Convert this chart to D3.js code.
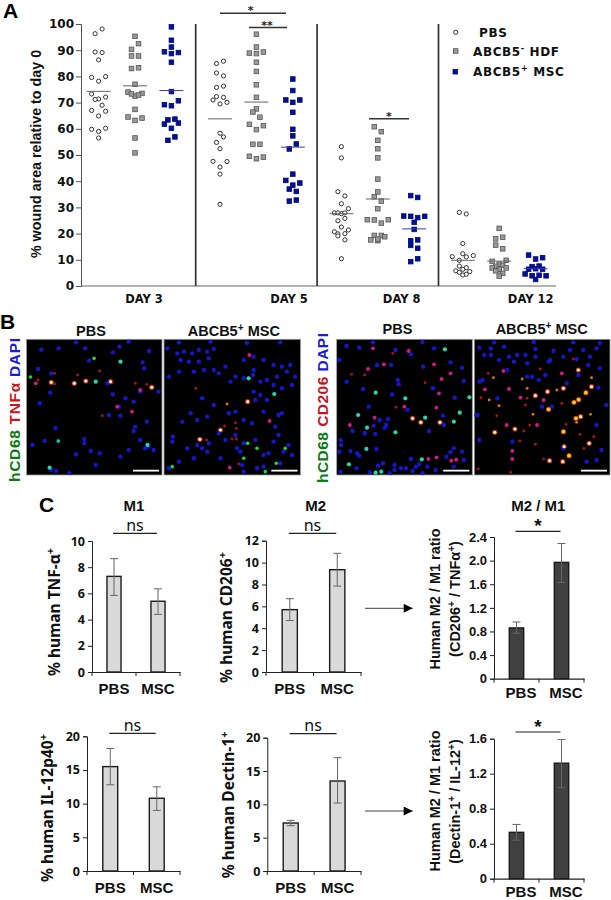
<!DOCTYPE html>
<html>
<head>
<meta charset="utf-8">
<script src="https://d3js.org/d3.v7.min.js"></script>
<style>
body { margin: 0; background: #fff; }
svg { display: block; }
</style>
</head>
<body>
<div id="figure"></div>
<script>
// Panel A: each inner array is one row of the swarm, left to right
var days = ['DAY 3', 'DAY 5', 'DAY 8', 'DAY 12'];
var groups = ['PBS', 'HDF', 'MSC'];

var day3Pbs = [[96.3, 98.1], [89.3, 89.1], [86.3], [79.6, 78.2, 79.9], [73.3, 71.4, 72.1], [71.2, 69], [67, 64.9, 66.7], [59.8, 59, 60.2], [56.5]];
var day3Hdf = [[95.3], [90.3, 92.5], [87.8, 87.8], [83, 83.3], [77], [74, 72.5, 73.5], [73.3, 72.9], [67.4], [64.5, 63.2, 64.1], [56.5], [50.8]];
var day3Msc = [[98.9], [93.8], [91.2], [89.4, 88.7, 89.1], [85.4], [74.2], [69.2, 68.8, 70.7], [63.4, 63.7], [61.8, 60.2, 62.2], [55.6, 56.9]];
var day5Pbs = [[84.9, 85.8], [81.3, 80.2], [75.8, 76.3], [72.3, 72], [71, 69.5, 70.1], [58.3], [54.8, 56.9], [52.4], [47.6, 45.4, 47.5], [42.7], [31.2]];
var day5Hdf = [[96.1], [91.2], [88.9, 88.7, 89.3], [85.4], [81.9], [76.8], [72], [67.6], [66.4, 64.4], [61.7, 59.7, 61.2], [54.1, 54.1], [49.5, 48.6, 49.2]];
var day5Msc = [[79], [74.6], [71, 70.1, 71], [66.3], [59.8], [57.3], [52.3, 54.2], [42.7], [40.3, 38.5, 39.3], [37, 36.1], [32.4, 32.8]];
var day8Pbs = [[53.2], [48.9], [36, 34.4], [31.4], [27.9, 27.6, 29.5], [27.9, 27.9], [24.9, 25.8], [20.7, 22.5, 21.4], [19.9, 20], [19.1, 17.6], [10.4]];
var day8Hdf = [[60.8, 58.9], [55.6], [52.4], [48.9], [40.8], [35.9], [34.1, 32.4], [29.5], [25.3, 25.2, 24, 25.3], [19.3, 19.3], [17.6, 17.3, 18.8], [17.9]];
var day8Msc = [[34.5, 33.8], [26.7, 26.6, 26.1, 26.6], [24.3], [21.6], [17.3, 17.6], [15.5, 14.4], [9.3, 10.4]];
var day12Pbs = [[28.1, 27.5], [16.2], [12.3], [11.2, 9.8, 11.1, 11.6], [7.6, 7], [6.4], [5.8, 4.2, 5.5], [5.2, 4.5]];
var day12Hdf = [[22], [18, 18.6], [15.6, 14.2], [9.4, 8.3, 9.8], [7.5, 7.9], [6.9, 6.2, 6.9], [6.4], [5.8, 4.8], [3.8]];
var day12Msc = [[11.8, 10.3, 10.8], [7.4, 7.6], [6.4, 6.6, 6.4], [4.6, 3.9, 4.1, 3.9], [2.5]];

var woundSeries = [
    [day3Pbs, day3Hdf, day3Msc],
    [day5Pbs, day5Hdf, day5Msc],
    [day8Pbs, day8Hdf, day8Msc],
    [day12Pbs, day12Hdf, day12Msc]
];
var woundMeans = [
    [74.3, 76.4, 74.6],
    [63.8, 70.2, 53],
    [27.6, 33.2, 21.8],
    [9.8, 9.5, 6.6]
];
var woundTicks = [0, 10, 20, 30, 40, 50, 60, 70, 80, 90, 100];

var cellsPbsTnf = [[45,14,'b'],[97,10,'b'],[178,10,'b'],[262,22,'b'],[190,47,'b'],[352,52,'b'],[372,18,'b'],[282,5,'b'],[357,70,'b'],[72,143,'b'],[40,175,'b'],[262,148,'b'],[300,160,'b'],[325,170,'b'],[280,185,'b'],[285,212,'b'],[250,210,'b'],[365,230,'b'],[330,245,'b'],[325,258,'b'],[345,285,'b'],[370,305,'b'],[385,315,'b'],[95,288,'b'],[55,288,'b'],[150,328,'b'],[175,282,'b'],[175,295,'b'],[195,318,'b'],[222,325,'b'],[285,335,'b'],[210,360,'b'],[75,375,'b'],[90,378,'b'],[130,385,'b'],[18,300,'b'],[88,250,'b'],[345,140,'b'],[400,140,'b'],[245,115,'b'],[360,310,'b'],[310,315,'b'],[35,72,'b'],[75,85,'b'],[150,-8,'b'],[310,-10,'b'],
    [28,115,'m'],[35,105,'r'],[85,85,'r'],[85,117,'r'],[330,115,'r'],[365,118,'r'],[345,135,'m'],[260,113,'r'],[230,212,'r'],[320,200,'m'],[275,185,'m'],[222,78,'r'],[155,90,'r'],
    [97,288,'g'],[205,40,'g'],[285,50,'c'],[210,110,'c'],[367,300,'c'],[70,368,'c'],[12,96,'g'],[75,112,'w'],[145,115,'w'],[180,108,'w'],[380,127,'w'],[255,110,'w']];
var cellsMscTnf = [[10,10,'b'],[40,25,'b'],[60,20,'b'],[85,25,'b'],[105,15,'b'],[130,20,'b'],[150,12,'b'],[50,45,'b'],[75,50,'b'],[105,50,'b'],[135,40,'b'],[150,75,'b'],[120,75,'b'],[165,85,'b'],[15,95,'b'],[45,80,'b'],[90,80,'b'],[240,45,'b'],[270,35,'b'],[300,45,'b'],[330,60,'b'],[355,65,'b'],[380,60,'b'],[270,75,'b'],[268,90,'b'],[290,110,'b'],[310,105,'b'],[340,95,'b'],[370,80,'b'],[395,95,'b'],[385,120,'b'],[355,130,'b'],[330,120,'b'],[240,100,'b'],[200,110,'b'],[185,65,'b'],[215,95,'b'],[270,140,'b'],[275,165,'b'],[290,150,'b'],[310,165,'b'],[150,180,'b'],[115,160,'b'],[80,205,'b'],[55,230,'b'],[100,225,'b'],[130,215,'b'],[195,205,'b'],[215,200,'b'],[240,225,'b'],[265,235,'b'],[300,200,'b'],[345,210,'b'],[355,205,'b'],[335,245,'b'],[345,270,'b'],[330,290,'b'],[27,275,'b'],[25,290,'b'],[70,310,'b'],[100,300,'b'],[115,310,'b'],[135,295,'b'],[165,265,'b'],[185,285,'b'],[215,270,'b'],[240,295,'b'],[230,320,'b'],[220,310,'b'],[275,285,'b'],[315,325,'b'],[300,330,'b'],[375,300,'b'],[360,320,'b'],[385,330,'b'],[350,355,'b'],[240,380,'b'],[235,360,'b'],[300,365,'b'],[15,370,'b'],[45,350,'b'],[170,340,'b'],[90,340,'b'],[130,320,'b'],[280,370,'b'],[45,-8,'b'],[140,-10,'b'],[250,-6,'b'],[350,-8,'b'],
    [332,147,'c'],[255,100,'c'],[257,30,'m'],[190,177,'o'],[182,243,'r'],[215,233,'r'],[218,250,'r'],[318,228,'m'],[198,368,'m'],[205,282,'r'],[218,282,'r'],[128,285,'r'],[225,357,'r'],[280,310,'g'],[338,355,'g'],[365,310,'g'],[305,380,'g'],[25,365,'g'],[240,340,'g'],[95,130,'r'],
    [252,295,'g'],[252,170,'w'],[108,283,'w'],[170,255,'w']];
var cellsPbsCd206 = [[30,3,'b'],[8,45,'b'],[68,8,'b'],[122,60,'b'],[165,60,'b'],[178,15,'b'],[225,28,'b'],[262,65,'b'],[295,10,'b'],[345,52,'b'],[380,68,'b'],[385,108,'b'],[30,110,'b'],[80,132,'b'],[185,105,'b'],[188,118,'b'],[168,148,'b'],[292,130,'b'],[358,158,'b'],[97,185,'b'],[215,195,'b'],[130,225,'b'],[155,222,'b'],[150,240,'b'],[112,242,'b'],[48,258,'b'],[145,248,'b'],[117,267,'b'],[280,258,'b'],[322,212,'b'],[325,240,'b'],[12,285,'b'],[13,300,'b'],[8,320,'b'],[42,318,'b'],[62,325,'b'],[68,332,'b'],[120,312,'b'],[355,310,'b'],[345,322,'b'],[332,335,'b'],[380,320,'b'],[355,365,'b'],[385,345,'b'],[300,375,'b'],[12,380,'b'],[60,370,'b'],[100,382,'b'],[140,355,'b'],[125,362,'b'],[175,360,'b'],[175,375,'b'],[195,370,'b'],[210,370,'b'],[225,342,'b'],[240,365,'b'],[230,378,'b'],[260,385,'b'],[250,358,'b'],[275,365,'b'],[160,385,'b'],[85,265,'b'],[110,-8,'b'],[260,-9,'b'],
    [143,58,'m'],[95,72,'m'],[85,90,'r'],[110,10,'m'],[45,88,'r'],[218,18,'m'],[170,25,'r'],[295,58,'m'],[318,102,'m'],[268,113,'r'],[310,145,'m'],[180,187,'r'],[205,185,'m'],[302,188,'m'],[345,85,'m'],[278,342,'m'],[303,337,'m'],[347,347,'m'],[362,344,'m'],[40,240,'m'],[115,218,'m'],
    [118,143,'c'],[208,160,'c'],[268,218,'c'],[92,248,'c'],[373,203,'c'],[355,230,'c'],[402,157,'c'],[328,13,'c'],[65,210,'c'],[37,358,'c'],[90,312,'c'],[258,343,'c'],[135,380,'c'],[118,383,'c'],[178,262,'c'],
    [255,232,'w'],[230,220,'w'],[313,232,'w']];
var cellsMscCd206 = [[15,8,'b'],[50,10,'b'],[90,5,'b'],[185,12,'b'],[240,18,'b'],[290,15,'b'],[330,15,'b'],[370,10,'b'],[30,30,'b'],[50,30,'b'],[75,45,'b'],[105,35,'b'],[130,30,'b'],[120,50,'b'],[155,30,'b'],[185,35,'b'],[230,45,'b'],[270,35,'b'],[310,42,'b'],[350,35,'b'],[380,70,'b'],[160,55,'b'],[225,50,'b'],[345,60,'b'],[15,110,'b'],[25,105,'b'],[100,75,'b'],[160,95,'b'],[195,105,'b'],[175,95,'b'],[215,90,'b'],[280,115,'b'],[315,90,'b'],[375,128,'b'],[205,185,'b'],[235,185,'b'],[70,160,'b'],[10,210,'b'],[15,285,'b'],[5,210,'b'],[370,240,'b'],[385,315,'b'],[340,350,'b'],[370,345,'b'],[270,310,'b'],[115,290,'b'],[400,180,'b'],[60,-8,'b'],[180,-9,'b'],[300,-8,'b'],[380,-6,'b'],
    [42,85,'r'],[58,98,'o'],[88,78,'m'],[32,133,'m'],[20,158,'r'],[105,132,'m'],[160,130,'o'],[145,102,'o'],[160,160,'r'],[265,85,'m'],[355,98,'o'],[265,175,'r'],[155,180,'r'],[178,208,'o'],[68,212,'r'],[352,208,'o'],[310,232,'o'],[98,240,'m'],[168,240,'r'],[190,240,'m'],[150,258,'r'],[278,238,'r'],[320,268,'r'],[362,275,'r'],[138,288,'r'],[185,298,'r'],[115,318,'m'],[115,342,'m'],[110,382,'r'],[210,342,'r'],[332,310,'r'],[45,165,'o'],[75,182,'o'],[12,372,'r'],[300,42,'r'],[200,72,'r'],[250,135,'o'],[210,165,'m'],[140,158,'m'],
    [185,152,'w'],[222,140,'w'],[270,130,'w'],[315,75,'w'],[338,143,'y'],[355,125,'w'],[302,172,'y'],[316,164,'y'],[225,193,'y'],[308,220,'y'],[322,215,'w'],[123,252,'w'],[62,262,'w'],[270,260,'y'],[228,347,'w'],[272,305,'w'],[287,332,'y'],[268,350,'w'],[348,295,'w']];

// Panel C: bar heights and error bar ends
var barCategories = ['PBS', 'MSC'];
var tnfMeans = [7.3, 5.4], tnfHigh = [8.65, 6.35], tnfLow = [5.85, 4.4];
var tnfTicks = [0, 2, 4, 6, 8, 10];
var cd206Means = [5.7, 9.35], cd206High = [6.7, 10.85], cd206Low = [4.7, 7.85];
var cd206Ticks = [0, 2, 4, 6, 8, 10, 12];
var il12Means = [15.5, 10.8], il12High = [18.2, 12.5], il12Low = [12.8, 9];
var il12Ticks = [0, 5, 10, 15, 20];
var dectinMeans = [7.2, 13.5], dectinHigh = [7.6, 17], dectinLow = [6.8, 10.2];
var dectinTicks = [0, 5, 10, 15, 20];
var ratioTopMeans = [0.86, 1.97], ratioTopHigh = [0.96, 2.29], ratioTopLow = [0.77, 1.63];
var ratioTopTicks = [0, 0.4, 0.8, 1.2, 1.6, 2.0, 2.4];
var ratioBottomMeans = [0.53, 1.32], ratioBottomHigh = [0.62, 1.59], ratioBottomLow = [0.44, 1.04];
var ratioBottomTicks = [0, 0.4, 0.8, 1.2, 1.6];

var SANS = '"Liberation Sans", Arial, sans-serif';
var WIDE = '"DejaVu Sans", Verdana, sans-serif';
var NOTO = '"Noto Sans", Tahoma, sans-serif';

var svg = d3.select('#figure').append('svg')
    .attr('width', 611)
    .attr('height', 900)
    .attr('viewBox', '0 0 611 900');

var defs = svg.append('defs');
defs.append('filter').attr('id', 'soft')
    .append('feGaussianBlur').attr('stdDeviation', 0.6);

function drawText(x, y, text, size, family, weight, color, anchor) {
    return svg.append('text')
        .attr('x', x)
        .attr('y', y)
        .attr('dominant-baseline', 'middle')
        .attr('text-anchor', anchor || 'middle')
        .style('font-family', family)
        .style('font-size', size + 'px')
        .style('font-weight', weight || 'bold')
        .style('fill', color || '#111')
        .text(text);
}

// text rotated to read bottom to top, parts marked with ^ are superscript
function drawRichText(x, y, parts, size, family, rotate, anchor, letterSpacing) {
    var t = svg.append('text')
        .attr('text-anchor', anchor || 'middle')
        .attr('transform', 'translate(' + x + ',' + y + ')' + (rotate ? ' rotate(-90)' : ''))
        .style('font-family', family)
        .style('font-size', size + 'px')
        .style('font-weight', 'bold')
        .style('letter-spacing', (letterSpacing || 0) + 'px')
        .style('fill', '#111');
    var raised = false;
    parts.forEach(function(part) {
        var isSup = part[0] === '^';
        var span = t.append('tspan').text(isSup ? part.slice(1) : part);
        if (isSup) {
            span.attr('dy', -size * 0.38).style('font-size', (size * 0.7) + 'px');
        } else if (raised) {
            span.attr('dy', size * 0.38);
        }
        raised = isSup;
    });
    return t;
}

function drawRule(x1, x2, y, color, width) {
    svg.append('line')
        .attr('x1', x1).attr('x2', x2)
        .attr('y1', y).attr('y2', y)
        .style('stroke', color || '#333')
        .style('stroke-width', width || 1.4);
}

// ---- panel A ----
var yWound = d3.scaleLinear().domain([0, 100]).range([286, 24]);
var xDay = d3.scaleBand().domain(days).range([74.3, 559.9]);
var xGroup = d3.scalePoint().domain(groups).range([-36.4, 36.4]);
var xLane = d3.scaleLinear().domain([-1, 1]).range([-3.5, 3.5]);

function groupCenter(day, group) {
    return xDay(day) + xDay.bandwidth() / 2 + xGroup(group);
}

var woundPoints = [];
woundSeries.forEach(function(daySeries, dayIdx) {
    daySeries.forEach(function(rows, groupIdx) {
        rows.forEach(function(row) {
            row.forEach(function(value, i) {
                woundPoints.push({
                    day: days[dayIdx],
                    group: groups[groupIdx],
                    value: value,
                    lane: 2 * i - (row.length - 1)
                });
            });
        });
    });
});

function pointX(d) { return groupCenter(d.day, d.group) + xLane(d.lane); }

svg.append('g').selectAll('rect.swarm')
    .data(woundPoints.filter(function(d) { return d.group !== 'PBS'; }))
    .enter()
    .append('rect')
    .attr('class', 'swarm')
    .attr('x', function(d) { return pointX(d) - 2.3; })
    .attr('y', function(d) { return yWound(d.value) - 2.3; })
    .attr('width', 4.6)
    .attr('height', 4.6)
    .style('fill', function(d) { return d.group === 'HDF' ? '#9a9a9a' : '#00109a'; })
    .style('stroke', function(d) { return d.group === 'HDF' ? '#555' : '#00087a'; })
    .style('stroke-width', 0.8);

svg.append('g').selectAll('circle.swarm')
    .data(woundPoints.filter(function(d) { return d.group === 'PBS'; }))
    .enter()
    .append('circle')
    .attr('class', 'swarm')
    .attr('cx', pointX)
    .attr('cy', function(d) { return yWound(d.value); })
    .attr('r', 2.1)
    .style('fill', '#fff')
    .style('stroke', '#333')
    .style('stroke-width', 1);

woundMeans.forEach(function(means, dayIdx) {
    means.forEach(function(mean, groupIdx) {
        var cx = groupCenter(days[dayIdx], groups[groupIdx]);
        drawRule(cx - 12, cx + 12, yWound(mean), groupIdx === 2 ? '#3a3aa8' : '#666', 1);
    });
});

var yAxisWound = svg.append('g')
    .attr('transform', 'translate(81,0)')
    .call(d3.axisLeft(yWound).tickValues(woundTicks).tickSize(5).tickPadding(2));
yAxisWound.selectAll('path, line').style('stroke', '#555').style('stroke-width', 1);
yAxisWound.selectAll('text')
    .style('font-family', WIDE)
    .style('font-size', '12px')
    .style('font-weight', 'bold')
    .style('fill', '#111');

drawRule(81, 556, yWound(0), '#666', 1);
xDay.domain().slice(1).forEach(function(day) {
    svg.append('line')
        .attr('x1', xDay(day)).attr('x2', xDay(day))
        .attr('y1', yWound(100)).attr('y2', yWound(0))
        .style('stroke', '#333')
        .style('stroke-width', 1.7);
});

var dayLabelX = [144, 289, 401.7, 530.7];
days.forEach(function(day, i) {
    drawText(dayLabelX[i], 299.5, day, 11.5, WIDE);
});

drawRichText(41, 154, ['% wound area relative to day 0'], 14.3, SANS, true);

drawRule(220, 286, 13.3, '#333');
drawRule(249, 287, 27.5, '#333');
drawRule(369, 409, 118.7, '#333');
drawText(250.7, 11, '*', 11, WIDE, 'bold', '#222');
drawText(267, 26, '**', 11, WIDE, 'bold', '#222');
drawText(389, 117, '*', 11, WIDE, 'bold', '#222');

// legend
svg.append('circle').attr('cx', 455.7).attr('cy', 32.3).attr('r', 2.1)
    .style('fill', '#fff').style('stroke', '#333').style('stroke-width', 1);
svg.append('rect').attr('x', 453.4).attr('y', 48.7).attr('width', 4.6).attr('height', 4.6)
    .style('fill', '#9a9a9a').style('stroke', '#555').style('stroke-width', 0.8);
svg.append('rect').attr('x', 453).attr('y', 69.4).attr('width', 4.6).attr('height', 4.6)
    .style('fill', '#00109a').style('stroke', '#00087a').style('stroke-width', 0.8);
drawRichText(479, 36.5, ['PBS'], 12, WIDE, false, 'start', 0.6);
drawRichText(473, 56, ['ABCB5', '^-', ' HDF'], 12, WIDE, false, 'start', 0.6);
drawRichText(473, 76, ['ABCB5', '^+', ' MSC'], 12, WIDE, false, 'start', 0.6);

drawText(3, 12.5, 'A', 21, SANS, 'bold', '#000', 'start');
drawText(0, 323.5, 'B', 21, SANS, 'bold', '#000', 'start');
drawText(39, 506, 'C', 21, SANS, 'bold', '#000', 'start');

// ---- panel B ----
var cellColor = { b: '#1414c8', r: '#b01418', m: '#d8188c', g: '#18d848', c: '#28d8a8', o: '#e07818', y: '#ffc828', w: '#fff0c0' };
var cellRadius = { b: 2.2, r: 1.4, m: 1.9, g: 1.8, c: 2.1, o: 1.4, y: 1.9, w: 1.6 };
var xCell = d3.scaleLinear().domain([0, 411]);
var yCell = d3.scaleLinear().domain([0, 388]).range([345, 474.3]);
var frameTop = 339.3, frameBottom = 475;

var micrographs = [
    { x0: 26.5, x1: 162, cells: cellsPbsTnf },
    { x0: 164, x1: 300.5, cells: cellsMscTnf },
    { x0: 336.7, x1: 472.3, cells: cellsPbsCd206 },
    { x0: 474.3, x1: 610, cells: cellsMscCd206 }
];

micrographs.forEach(function(m, i) {
    var x = xCell.copy().range([m.x0, m.x1]);
    var clipId = 'clip' + i;
    defs.append('clipPath').attr('id', clipId).append('rect')
        .attr('x', m.x0).attr('y', frameTop)
        .attr('width', m.x1 - m.x0).attr('height', frameBottom - frameTop);
    svg.append('rect')
        .attr('x', m.x0).attr('y', frameTop)
        .attr('width', m.x1 - m.x0).attr('height', frameBottom - frameTop)
        .style('fill', '#000')
        .style('stroke', '#999')
        .style('stroke-width', 0.8);
    var g = svg.append('g').attr('clip-path', 'url(#' + clipId + ')')
        .append('g').attr('filter', 'url(#soft)');
    // hot cells get a red halo under them
    g.selectAll('circle.halo')
        .data(m.cells.filter(function(d) { return d[2] === 'w' || d[2] === 'y'; }))
        .enter()
        .append('circle')
        .attr('class', 'halo')
        .attr('cx', function(d) { return x(d[0]); })
        .attr('cy', function(d) { return yCell(d[1]); })
        .attr('r', 2.6)
        .style('fill', '#c02810');
    g.selectAll('circle.cell')
        .data(m.cells)
        .enter()
        .append('circle')
        .attr('class', 'cell')
        .attr('cx', function(d) { return x(d[0]); })
        .attr('cy', function(d) { return yCell(d[1]); })
        .attr('r', function(d) { return cellRadius[d[2]]; })
        .style('fill', function(d) { return cellColor[d[2]]; });
    svg.append('line')
        .attr('x1', x(323)).attr('x2', x(402))
        .attr('y1', yCell(377)).attr('y2', yCell(377))
        .style('stroke', '#fff')
        .style('stroke-width', 1.8);
});

drawText(91, 331.7, 'PBS', 14.5, SANS);
drawRichText(233.8, 336, ['ABCB5', '^+', ' MSC'], 14.5, SANS);
drawText(397.5, 330, 'PBS', 14.5, SANS);
drawRichText(541.7, 334, ['ABCB5', '^+', ' MSC'], 14.5, SANS);

function drawStainLabel(x, top, bottom, middleWord) {
    var t = svg.append('text')
        .attr('text-anchor', 'middle')
        .attr('transform', 'translate(' + x + ',' + ((top + bottom) / 2) + ') rotate(-90)')
        .attr('textLength', bottom - top)
        .style('font-family', SANS)
        .style('font-size', '15.5px')
        .style('font-weight', 'bold');
    t.append('tspan').style('fill', '#0a7a12').text('hCD68 ');
    t.append('tspan').style('fill', '#c8141c').text(middleWord + ' ');
    t.append('tspan').style('fill', '#1a1ad8').text('DAPI');
}
drawStainLabel(19.5, 338, 482, 'TNFα');
drawStainLabel(328, 333, 483, 'CD206');

// ---- panel C ----
var barCharts = [
    { left: 92, right: 180, top: 541, bottom: 672, yMax: 10, ticks: tnfTicks, means: tnfMeans, high: tnfHigh, low: tnfLow, fill: '#d9d9d9', sigGap: 7.7, labelY: 690, labelDx: 0, tickFont: NOTO, tickSize: 12.5, format: d3.format('d') },
    { left: 266, right: 361, top: 540.7, bottom: 672, yMax: 12, ticks: cd206Ticks, means: cd206Means, high: cd206High, low: cd206Low, fill: '#d9d9d9', sigGap: 7.4, labelY: 690, labelDx: 0, tickFont: NOTO, tickSize: 12.5, format: d3.format('d') },
    { left: 87, right: 180, top: 736.3, bottom: 871, yMax: 20, ticks: il12Ticks, means: il12Means, high: il12High, low: il12Low, fill: '#d9d9d9', sigGap: 3, labelY: 889, labelDx: 0, tickFont: NOTO, tickSize: 12.5, format: d3.format('d') },
    { left: 267.3, right: 361, top: 737.7, bottom: 871, yMax: 20, ticks: dectinTicks, means: dectinMeans, high: dectinHigh, low: dectinLow, fill: '#d9d9d9', sigGap: 4, labelY: 889, labelDx: 0, tickFont: NOTO, tickSize: 12.5, format: d3.format('d') },
    { left: 494, right: 584, top: 537, bottom: 678.7, yMax: 2.4, ticks: ratioTopTicks, means: ratioTopMeans, high: ratioTopHigh, low: ratioTopLow, fill: '#404040', sigGap: 5.7, labelY: 694, labelDx: 4.5, tickFont: SANS, tickSize: 13, format: function(d) { return d === 0 ? '0' : d3.format('.1f')(d); } },
    { left: 494, right: 584, top: 738.7, bottom: 878.7, yMax: 1.6, ticks: ratioBottomTicks, means: ratioBottomMeans, high: ratioBottomHigh, low: ratioBottomLow, fill: '#404040', sigGap: 6.7, labelY: 893.5, labelDx: 4.5, tickFont: SANS, tickSize: 13, format: function(d) { return d === 0 ? '0' : d3.format('.1f')(d); } }
];

function drawBarChart(c) {
    var x = d3.scaleBand().domain(barCategories).range([c.left, c.right])
        .paddingInner(0.68).paddingOuter(0.34);
    var y = d3.scaleLinear().domain([0, c.yMax]).range([c.bottom, c.top]);
    var center = function(d) { return x(d) + x.bandwidth() / 2; };

    svg.append('g').selectAll('rect')
        .data(barCategories)
        .enter()
        .append('rect')
        .attr('x', function(d) { return x(d); })
        .attr('y', function(d, i) { return y(c.means[i]); })
        .attr('width', x.bandwidth())
        .attr('height', function(d, i) { return y(0) - y(c.means[i]); })
        .style('fill', c.fill)
        .style('stroke', '#1a1a1a')
        .style('stroke-width', 1.4);

    var err = svg.append('g').style('stroke', '#666').style('stroke-width', 1);
    barCategories.forEach(function(d, i) {
        err.append('line')
            .attr('x1', center(d)).attr('x2', center(d))
            .attr('y1', y(c.high[i])).attr('y2', y(c.low[i]));
        [c.high[i], c.low[i]].forEach(function(v) {
            err.append('line')
                .attr('x1', center(d) - 4).attr('x2', center(d) + 4)
                .attr('y1', y(v)).attr('y2', y(v));
        });
    });

    var yAxis = svg.append('g')
        .attr('transform', 'translate(' + c.left + ',0)')
        .call(d3.axisLeft(y).tickValues(c.ticks).tickFormat(c.format).tickSize(4).tickPadding(3));
    yAxis.selectAll('path, line').style('stroke', '#222').style('stroke-width', 1);
    yAxis.selectAll('text')
        .style('font-family', c.tickFont)
        .style('font-size', c.tickSize + 'px')
        .style('font-weight', 'bold')
        .style('fill', '#111');

    // ticks sit between the bars, labels under them
    var xAxis = svg.append('g')
        .attr('transform', 'translate(0,' + c.bottom + ')')
        .call(d3.axisBottom(x).tickSize(0).tickPadding(0));
    xAxis.select('.domain').style('stroke', '#222').style('stroke-width', 1.2);
    xAxis.selectAll('text').remove();
    [c.left, (c.left + c.right) / 2, c.right].forEach(function(tx) {
        xAxis.append('line')
            .attr('x1', tx).attr('x2', tx).attr('y1', 0).attr('y2', 4)
            .style('stroke', '#222').style('stroke-width', 1);
    });
    barCategories.forEach(function(d) {
        drawText(center(d) + c.labelDx, c.labelY, d, 15, SANS);
    });

    drawRule(center('PBS') - 1, center('MSC') - 1, c.top - c.sigGap, '#222', 1.2);
    return { midpoint: (center('PBS') + center('MSC')) / 2 - 1, sigY: c.top - c.sigGap };
}

var placed = barCharts.map(drawBarChart);

placed.slice(0, 4).forEach(function(p) {
    drawText(p.midpoint, p.sigY - 6.5, 'ns', 16, NOTO, 'normal');
});
placed.slice(4).forEach(function(p) {
    drawText(p.midpoint, p.sigY - 4, '*', 19, SANS, 'bold');
});

drawText(134, 506.7, 'M1', 15, SANS);
drawText(315.7, 506.7, 'M2', 15, SANS);
drawText(538.3, 506.7, 'M2 / M1', 15, SANS);

drawRichText(60, 612, ['% human TNF-α', '^+'], 15.5, NOTO, true);
drawRichText(231.5, 617.5, ['% human CD206', '^+'], 15.5, NOTO, true);
drawRichText(53, 808, ['% human IL-12p40', '^+'], 15.5, NOTO, true);
drawRichText(234, 805, ['% human Dectin-1', '^+'], 15.5, NOTO, true);

drawRichText(440, 599, ['Human M2 / M1 ratio'], 14.5, SANS, true);
drawRichText(460, 599, ['(CD206', '^+', ' / TNFα', '^+', ')'], 14.5, SANS, true);
drawRichText(440, 801, ['Human M2 / M1 ratio'], 14.5, SANS, true);
drawRichText(460, 801.5, ['(Dectin-1', '^+', ' / IL-12', '^+', ')'], 14.5, SANS, true);

defs.append('marker').attr('id', 'arrowhead')
    .attr('viewBox', '0 0 10 10')
    .attr('refX', 10).attr('refY', 5)
    .attr('markerUnits', 'userSpaceOnUse')
    .attr('markerWidth', 10).attr('markerHeight', 9)
    .attr('orient', 'auto')
    .append('path').attr('d', 'M0,0L10,5L0,10Z').style('fill', '#000');

[608.3, 811].forEach(function(ay) {
    svg.append('line')
        .attr('x1', 365).attr('x2', 412.7)
        .attr('y1', ay).attr('y2', ay)
        .attr('marker-end', 'url(#arrowhead)')
        .style('stroke', '#444')
        .style('stroke-width', 1);
});
</script>
</body>
</html>
